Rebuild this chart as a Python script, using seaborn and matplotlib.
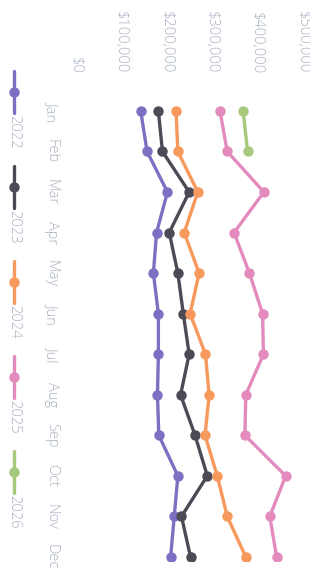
import matplotlib
matplotlib.use("Agg")
import matplotlib.pyplot as plt
import seaborn as sns
import pandas as pd
from matplotlib.lines import Line2D
from matplotlib.ticker import FuncFormatter

# month labels and yearly revenue series
months = ['Jan', 'Feb', 'Mar', 'Apr', 'May', 'Jun', 'Jul', 'Aug', 'Sep', 'Oct', 'Nov', 'Dec']
rev_2022 = [144000, 158000, 203000, 179000, 172000, 183000, 183000, 181000, 184000, 226000, 218000, 210000]
rev_2023 = [183000, 192000, 251000, 207000, 226000, 238000, 251000, 232000, 264000, 291000, 234000, 254000]
rev_2024 = [222000, 226000, 270000, 240000, 273000, 253000, 287000, 295000, 286000, 313000, 335000, 376000]
rev_2025 = [319000, 335000, 416000, 350000, 384000, 413000, 415000, 376000, 374000, 464000, 429000, 444000]
rev_2026 = [370000, 380000]
y_ticks = [0, 100000, 200000, 300000, 400000, 500000]

years = ['2022', '2023', '2024', '2025', '2026']
colors = ['#7d70c2', '#4b4a55', '#f7985c', '#e48bbd', '#a6c97c']
series = [rev_2022, rev_2023, rev_2024, rev_2025, rev_2026]

rows = []
for yr, vals in zip(years, series):
    for i, v in enumerate(vals):
        rows.append({'year': yr, 'month': i, 'revenue': v})
df = pd.DataFrame(rows)

sns.set_style('white')
plt.rcParams['font.family'] = ['Open Sans', 'DejaVu Sans']
text_col = '#aab3c3'

fig = plt.figure(figsize=(3.10, 5.74), dpi=100)
ax = fig.add_axes([0.2435, 0.0226, 0.7306, 0.8053])

# chart is drawn turned a quarter turn: values run across, months run down
sns.lineplot(data=df, x='revenue', y='month', hue='year', palette=colors,
             orient='y', marker='o', markersize=7.5, markeredgewidth=0,
             linewidth=2.4, legend=False, ax=ax)

ax.set_xlim(0, 500000)
ax.set_ylim(11.1, -0.3)
ax.xaxis.tick_top()
ax.set_xticks(y_ticks)
ax.xaxis.set_major_formatter(FuncFormatter(lambda v, p: f'${v:,.0f}'))
ax.set_yticks(range(12))
ax.set_yticklabels(months)
ax.tick_params(axis='x', length=0, pad=18, labelsize=10.5, colors=text_col, labelrotation=-90)
ax.tick_params(axis='y', length=0, pad=12, labelsize=10.5, colors=text_col, labelrotation=-90)
for lab in ax.get_yticklabels() + ax.get_xticklabels():
    lab.set_fontweight('light')
for lab in ax.get_yticklabels():
    lab.set_verticalalignment('center')
ax.set_xlabel('')
ax.set_ylabel('')
sns.despine(ax=ax, left=True, bottom=True)
ax.grid(False)

# legend, laid out down the left edge
H = 574.0
for k, (yr, c) in enumerate(zip(years, colors)):
    yc = 92 + k * 95
    fig.add_artist(Line2D([14 / 310, 14 / 310], [1 - (yc - 21) / H, 1 - (yc + 21) / H],
                          color=c, lw=2.4, transform=fig.transFigure))
    fig.add_artist(Line2D([14 / 310], [1 - yc / H], marker='o', markersize=7.5,
                          markeredgewidth=0, color=c, transform=fig.transFigure))
    fig.text(14 / 310, 1 - (yc + 23) / H, yr, rotation=-90, ha='center', va='top',
             fontsize=10.5, fontweight='light', color=text_col)

fig.savefig('out.png', dpi=100)
